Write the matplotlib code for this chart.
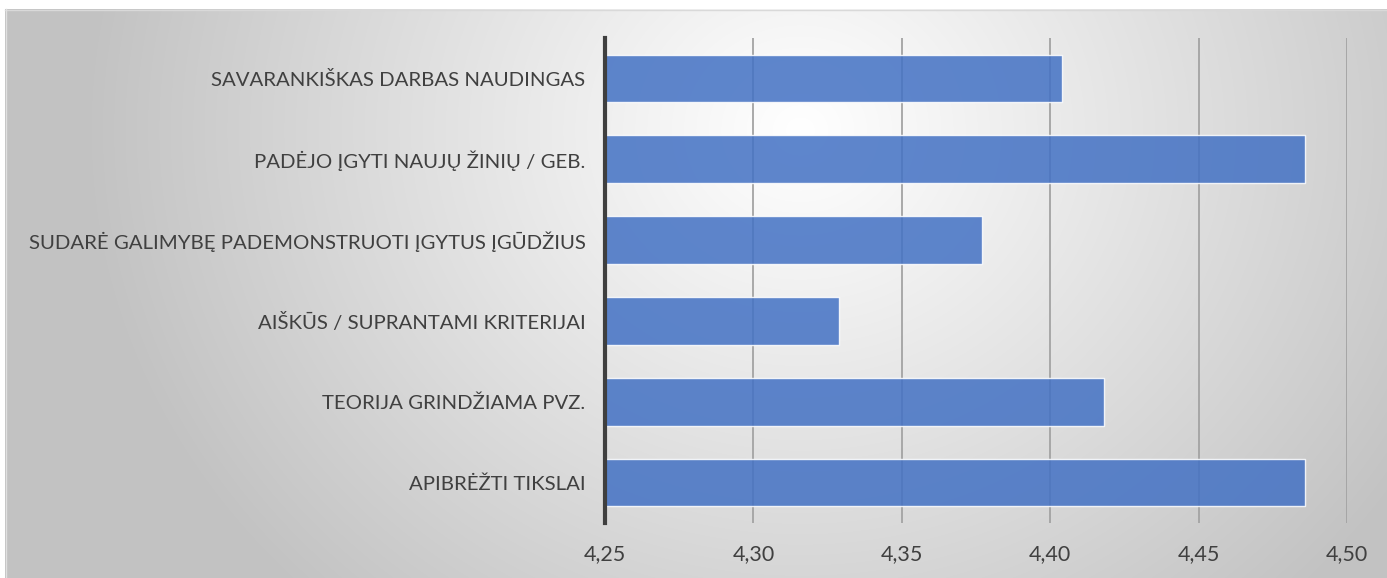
import numpy as np
import matplotlib
matplotlib.use("Agg")
import matplotlib.pyplot as plt

categories = [
    "SAVARANKIŠKAS DARBAS NAUDINGAS",
    "PADĖJO ĮGYTI NAUJŲ ŽINIŲ / GEB.",
    "SUDARĖ GALIMYBĘ PADEMONSTRUOTI ĮGYTUS ĮGŪDŽIUS",
    "AIŠKŪS / SUPRANTAMI KRITERIJAI",
    "TEORIJA GRINDŽIAMA PVZ.",
    "APIBRĖŽTI TIKSLAI",
]
values = [4.404, 4.486, 4.377, 4.329, 4.418, 4.486]
xticks = [4.25, 4.30, 4.35, 4.40, 4.45, 4.50]
xtick_labels = ["4,25", "4,30", "4,35", "4,40", "4,45", "4,50"]

W, H = 1387, 578
fig = plt.figure(figsize=(W / 100, H / 100), dpi=100)
fig.patch.set_facecolor("white")

# background gradient panel
bg = fig.add_axes([0, 0, 1, 1], zorder=-10)
bg.set_xlim(0, W)
bg.set_ylim(H, 0)
bg.axis("off")
x0, y0 = 5, 9
xx, yy = np.meshgrid(np.arange(x0, W), np.arange(y0, H))
cx, cy = 800, 130
d = np.sqrt(((xx - cx) / 720.0) ** 2 + ((yy - cy) / 650.0) ** 2)
t = np.clip(d, 0, 1) ** 1.05
v = (255 - t * (255 - 194)) / 255.0
img = np.dstack([v, v, v])
bg.imshow(img, extent=(x0, W, H, y0), aspect="auto", interpolation="bilinear")
bg.plot([x0, W], [y0 + 0.5, y0 + 0.5], color="#d9d9d9", lw=1)
bg.plot([x0 + 0.5, x0 + 0.5], [y0, H], color="#e0e0e0", lw=1)

left, right = 605, 1347
top, bottom = 38, 523
ax = fig.add_axes([left / W, 1 - bottom / H, (right - left) / W, (bottom - top) / H])
ax.set_facecolor("none")

ypos = np.arange(len(categories))
ax.barh(ypos, [v_ - 4.25 for v_ in values], left=4.25, height=0.59,
        color="#4472c4", alpha=0.86, edgecolor=(1, 1, 1, 0.55), linewidth=1.0, zorder=3)
ax.set_ylim(len(categories) - 0.5, -0.5)
ax.set_xlim(4.25, 4.50)
ax.set_xticks(xticks)
ax.set_xticklabels(xtick_labels)
ax.set_yticks(ypos)
ax.set_yticklabels(categories)

for s in ["top", "right", "bottom"]:
    ax.spines[s].set_visible(False)
ax.spines["left"].set_color("#3f3f3f")
ax.spines["left"].set_linewidth(3)
ax.spines["left"].set_zorder(5)

ax.grid(axis="x", color="#a3a3a3", linewidth=1.3, zorder=1)
ax.set_axisbelow(True)
ax.tick_params(axis="both", length=0, colors="#404040")
ax.tick_params(axis="y", pad=14)
ax.tick_params(axis="x", pad=15)
for lab in ax.get_yticklabels():
    lab.set_fontfamily("Lato")
    lab.set_fontsize(14.7)
    lab.set_color("#404040")
for lab in ax.get_xticklabels():
    lab.set_fontfamily("Lato")
    lab.set_fontsize(15.5)
    lab.set_color("#404040")

fig.savefig("out.png", dpi=100, facecolor="white")
